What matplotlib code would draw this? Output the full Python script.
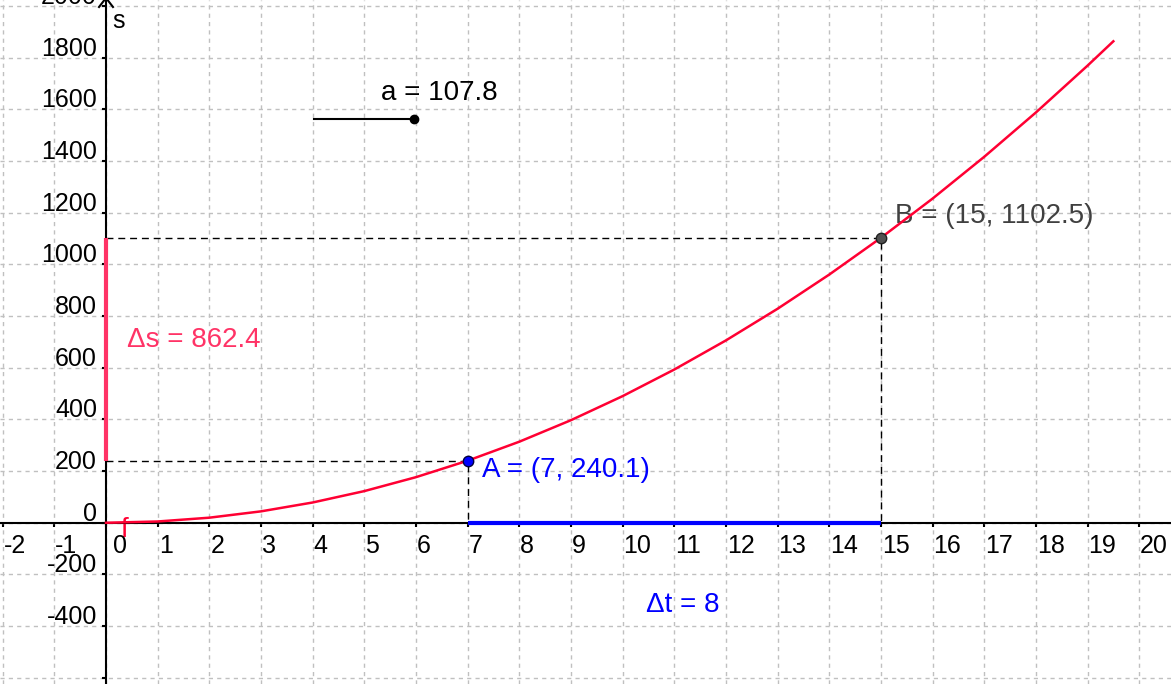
import matplotlib.pyplot as plt

plt.rcParams['font.family'] = ['Liberation Sans', 'DejaVu Sans']
plt.rcParams['lines.scale_dashes'] = False

# curve f: distance s over time t
t = [0, 1, 2, 3, 4, 5, 6, 7, 8, 9, 10, 11, 12, 13, 14, 15, 16, 17, 18, 19, 19.5]
s = [0, 4.9, 19.6, 44.1, 78.4, 122.5, 176.4, 240.1, 313.6, 396.9, 490.0,
     592.9, 705.6, 828.1, 960.4, 1102.5, 1254.4, 1416.1, 1587.6, 1768.9, 1863.2]

A = (7, 240.1)
B = (15, 1102.5)
a_value = 107.8
delta_s = 862.4
delta_t = 8

x_ticks = list(range(-2, 21))
y_ticks = list(range(-600, 2001, 200))
y_labels = list(range(-400, 2001, 200))

W, H = 1171, 684
fig = plt.figure(figsize=(W / 100, H / 100), dpi=100)
ax = fig.add_axes([0, 0, 1, 1])
ax.set_xlim(-2.052, 20.616)
ax.set_ylim(-624, 2023)


def px(x, y):
    # pixel position (from top-left) -> data coords
    return ax.transData.inverted().transform((x, H - y))


# grid + axes
ax.set_xticks(x_ticks)
ax.set_yticks(y_ticks)
ax.grid(True, color='#C0C0C0', linewidth=1, linestyle=(0, (3, 3)))
ax.set_axisbelow(True)
for side in ['top', 'right']:
    ax.spines[side].set_visible(False)
for side in ['left', 'bottom']:
    ax.spines[side].set_position(('data', 0))
    ax.spines[side].set_linewidth(1.5)
    ax.spines[side].set_zorder(3)
ax.tick_params(direction='out', length=3, width=1.5,
               labelbottom=False, labelleft=False)

for v in x_ticks:
    dx = 7 if v == 0 else 1
    ax.annotate(str(v), (v, 0), xytext=(dx, -30), textcoords='offset pixels',
                ha='left', va='baseline', fontsize=18)
for v in y_labels:
    ax.annotate(str(v), (0, v), xytext=(-9, 2), textcoords='offset pixels',
                ha='right', va='baseline', fontsize=18)

# arrow tip of the s axis
p1, p2, p3 = px(99, 7), px(106, -2), px(113, 7)
ax.plot([p1[0], p2[0], p3[0]], [p1[1], p2[1], p3[1]], color='black', lw=1.5,
        clip_on=False, zorder=3)

sx, sy = px(112, 28)
ax.text(sx, sy, 's', fontsize=18, va='baseline')

# helper lines to the axes
ax.plot([0, B[0], B[0]], [B[1], B[1], 0], color='black', lw=1, dashes=(5, 3.5), zorder=2)
ax.plot([0, A[0], A[0]], [A[1], A[1], 0], color='black', lw=1, dashes=(5, 3.5), zorder=2)

# curve
ax.plot(t, s, color='#FF0033', lw=1.8, zorder=4)
fx, fy = px(121, 537)
ax.text(fx, fy, 'f', fontsize=20, color='#FF0033', va='baseline', zorder=2)

# delta segments
ax.plot([0, 0], [A[1], B[1]], color='#FF3366', lw=3, zorder=5, solid_capstyle='butt')
ax.plot([A[0], B[0]], [0, 0], color='#0000FF', lw=3, zorder=5, solid_capstyle='butt')

dsx, dsy = px(127, 347)
ax.text(dsx, dsy, '\u0394s = ' + str(delta_s), fontsize=20, color='#FF3366', va='baseline')
dtx, dty = px(646, 612)
ax.text(dtx, dty, '\u0394t = ' + str(delta_t), fontsize=20, color='#0000FF', va='baseline')

# points
ax.plot(*A, 'o', ms=7.5, mfc='#0000FF', mec='#000040', mew=1, zorder=6)
ax.plot(*B, 'o', ms=7.5, mfc='#505050', mec='#202020', mew=1, zorder=6)
ax.annotate('A = (7, 240.1)', A, xytext=(14, -16), textcoords='offset pixels',
            fontsize=20, color='#0000FF', va='baseline')
ax.annotate('B = (15, 1102.5)', B, xytext=(14, 15), textcoords='offset pixels',
            fontsize=20, color='#404040', va='baseline')

# slider for a
s0, s1 = px(314, 119), px(414, 119)
ax.plot([s0[0], s1[0]], [s0[1], s1[1]], color='black', lw=1.5, zorder=5)
ax.plot(s1[0], s1[1], 'o', ms=6, color='black', zorder=6)
ax.annotate('a = ' + str(a_value), tuple(s1), xytext=(-33, 19), textcoords='offset pixels',
            fontsize=20, va='baseline')

fig.savefig('out.png', dpi=100)
